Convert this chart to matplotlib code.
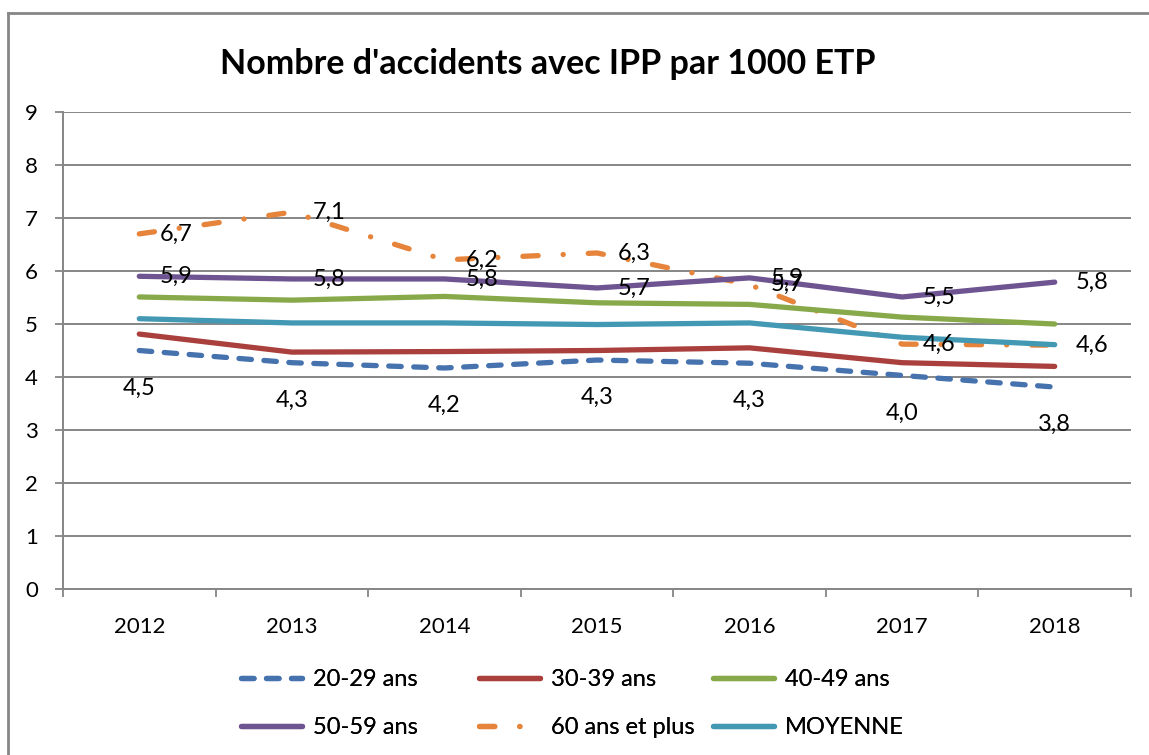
import matplotlib
matplotlib.use("Agg")
import matplotlib.pyplot as plt
from matplotlib.lines import Line2D

plt.rcParams['font.family'] = ['Lato', 'DejaVu Sans']
plt.rcParams['lines.scale_dashes'] = False

years = ["2012", "2013", "2014", "2015", "2016", "2017", "2018"]
s_20_29 = [4.50, 4.27, 4.17, 4.32, 4.26, 4.03, 3.81]
s_30_39 = [4.81, 4.47, 4.48, 4.50, 4.55, 4.27, 4.20]
s_40_49 = [5.51, 5.45, 5.52, 5.40, 5.37, 5.13, 5.00]
s_50_59 = [5.90, 5.85, 5.85, 5.68, 5.87, 5.51, 5.79]
s_60_plus = [6.70, 7.11, 6.21, 6.34, 5.74, 4.62, 4.60]
s_moyenne = [5.10, 5.02, 5.02, 4.99, 5.02, 4.75, 4.61]
y_ticks = [0, 1, 2, 3, 4, 5, 6, 7, 8, 9]
title = "Nombre d'accidents avec IPP par 1000 ETP"

W, H = 1149, 755
fig = plt.figure(figsize=(W / 100, H / 100), dpi=100)
ax = fig.add_axes([63 / W, 1 - 589 / H, (1131 - 63) / W, (589 - 112) / H])

x = list(range(len(years)))
lw = 3.8
series = [
    ("20-29 ans", s_20_29, "#4672AE", (0, (9.0, 9.0))),
    ("30-39 ans", s_30_39, "#A9403D", "-"),
    ("40-49 ans", s_40_49, "#88A94A", "-"),
    ("50-59 ans", s_50_59, "#6E5490", "-"),
    ("60 ans et plus", s_60_plus, "#E5843A", (0, (11.0, 18.0, 0.1, 18.0))),
    ("MOYENNE", s_moyenne, "#4399B3", "-"),
]
handles = {}
order_z = {"20-29 ans": 3, "30-39 ans": 4, "40-49 ans": 5, "50-59 ans": 6, "60 ans et plus": 2, "MOYENNE": 7}
for name, vals, col, ls in series:
    ln, = ax.plot(x, vals, color=col, lw=lw, ls=ls, solid_capstyle='round',
                  dash_capstyle='round', zorder=order_z[name], label=name)
    handles[name] = ln

def fmt(v):
    return ("%.1f" % v).replace(".", ",")

lab_fs = 17
for i, v in enumerate(s_20_29):
    ax.annotate(fmt(v), (i, v), xytext=(0, -27), textcoords='offset points',
                ha='center', va='center', fontsize=lab_fs, zorder=10)
for vals in (s_50_59, s_60_plus):
    for i, v in enumerate(vals):
        ax.annotate(fmt(v), (i, v), xytext=(15, 0), textcoords='offset points',
                    ha='left', va='center', fontsize=lab_fs, zorder=10)

tick_fs = 16
ax.set_xlim(-0.5, len(years) - 0.5)
ax.set_ylim(0, 9)
ax.set_yticks(y_ticks)
ax.set_yticklabels([str(t) for t in y_ticks], fontsize=tick_fs)
ax.set_xticks(x)
ax.set_xticklabels(years, fontsize=tick_fs)
ax.set_xticks([i - 0.5 for i in range(len(years) + 1)], minor=True)
ax.tick_params(axis='x', which='major', length=0, pad=20)
ax.tick_params(axis='x', which='minor', length=6, width=1.3, color='#868686', direction='out')
ax.tick_params(axis='y', which='major', length=6, width=1.3, color='#868686', pad=12)
ax.grid(axis='y', color='#868686', lw=1.4, zorder=0)
ax.set_axisbelow(True)
for s in ('top', 'right'):
    ax.spines[s].set_visible(False)
for s in ('left', 'bottom'):
    ax.spines[s].set_color('#868686')
    ax.spines[s].set_linewidth(1.4)

fig.text(548 / W, 1 - 64 / H, title, ha='center', va='center', fontsize=24.5, fontweight='bold')

# outer chart border (top and left edges visible)
fig.add_artist(Line2D([8 / W, 1.0], [1 - 13 / H, 1 - 13 / H], transform=fig.transFigure,
                      color='#868686', lw=2))
fig.add_artist(Line2D([8 / W, 8 / W], [0.0, 1 - 13 / H], transform=fig.transFigure,
                      color='#868686', lw=2))

cols = [("20-29 ans", "50-59 ans", 241), ("30-39 ans", "60 ans et plus", 479), ("40-49 ans", "MOYENNE", 713)]
for a, b, px in cols:
    leg = fig.legend([handles[a], handles[b]], [a, b], loc='upper left',
                     bbox_to_anchor=(px / W, 1 - 669 / H), frameon=False, fontsize=17,
                     handlelength=2.6, handletextpad=0.45, labelspacing=1.15,
                     borderpad=0, borderaxespad=0)
    fig.add_artist(leg)

fig.savefig("out.png", dpi=100)
